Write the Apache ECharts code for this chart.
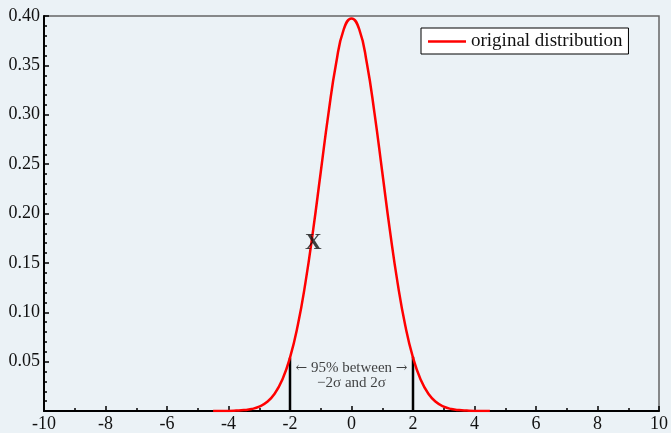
<!DOCTYPE html>
<html>
<head>
<meta charset="utf-8">
<script src="https://cdn.jsdelivr.net/npm/echarts@6/dist/echarts.min.js"></script>
<style>html,body{margin:0;padding:0;background:#ebf2f6;}#c{width:671px;height:433px;}</style>
</head>
<body>
<div id="c"></div>
<script>
// Data
const curveX = [-4.5,-4.25,-4,-3.75,-3.5,-3.25,-3,-2.75,-2.5,-2.25,-2,-1.75,-1.5,-1.25,-1,-0.75,-0.5,-0.25,0,0.25,0.5,0.75,1,1.25,1.5,1.75,2,2.25,2.5,2.75,3,3.25,3.5,3.75,4,4.25,4.5];
const curveY = [0.00002,0.00005,0.0001,0.0004,0.0009,0.002,0.0044,0.0091,0.0175,0.0317,0.054,0.0863,0.1295,0.1826,0.242,0.3011,0.3521,0.3867,0.3975,0.3867,0.3521,0.3011,0.242,0.1826,0.1295,0.0863,0.054,0.0317,0.0175,0.0091,0.0044,0.002,0.0009,0.0004,0.0001,0.00005,0.00002];
const sigmaX = [-2, 2];
const sigmaTop = [0.054, 0.055];
const xTicks = [-10,-8,-6,-4,-2,0,2,4,6,8,10];
const yTicks = [0.05,0.10,0.15,0.20,0.25,0.30,0.35,0.40];
const seriesName = 'original distribution';
const markX = [-1.24, 0.170];
const noteLine1 = ['\u2190', ' 95% between ', '\u2192'];
const noteLine2 = '\u22122\u03c3 and 2\u03c3';
const notePos = [0, 0.0358];

const serif = '"Liberation Serif", "DejaVu Serif", serif';
const chart = echarts.init(document.getElementById('c'));
const curve = curveX.map((x, i) => [x, curveY[i]]);
const sigmaSeries = sigmaX.map((x, i) => ({
  type: 'line', silent: true, showSymbol: false, z: 3,
  data: [[x, 0], [x, sigmaTop[i]]],
  lineStyle: {color: '#000', width: 2.5}
}));
chart.setOption({
  backgroundColor: '#ebf2f6',
  animation: false,
  grid: {left: 44, right: 11, top: 16, bottom: 22, show: true, borderColor: '#666', borderWidth: 1.5, backgroundColor: 'transparent'},
  legend: {
    data: [seriesName], left: 421, top: 28, padding: [4, 6, 3, 7],
    backgroundColor: '#ffffff', borderColor: '#000', borderWidth: 1, borderRadius: 0,
    icon: 'rect', itemWidth: 38, itemHeight: 2.5,
    textStyle: {fontFamily: serif, fontSize: 19, color: '#111'}
  },
  xAxis: {
    type: 'value', min: -10, max: 10, interval: 2,
    axisLine: {onZero: false, lineStyle: {color: '#000', width: 2}},
    axisTick: {inside: true, length: 5, lineStyle: {color: '#000', width: 1.5}},
    minorTick: {show: true, splitNumber: 2, length: 3, lineStyle: {color: '#000', width: 1.5}},
    splitLine: {show: false},
    axisLabel: {fontFamily: serif, fontSize: 18, color: '#111', margin: 4,
      formatter: v => xTicks.includes(v) ? String(v) : ''}
  },
  yAxis: {
    type: 'value', min: 0, max: 0.4, interval: 0.05,
    axisLine: {show: true, onZero: false, lineStyle: {color: '#000', width: 2}},
    axisTick: {show: true, inside: true, length: 5, lineStyle: {color: '#000', width: 1.5}},
    minorTick: {show: true, splitNumber: 5, length: 3, lineStyle: {color: '#000', width: 1.5}},
    splitLine: {show: false},
    axisLabel: {fontFamily: serif, fontSize: 18, color: '#111', margin: 4,
      formatter: v => { const t = yTicks.find(y => Math.abs(y - v) < 1e-9); return t === undefined ? '' : t.toFixed(2); }}
  },
  series: [
    {
      name: seriesName, type: 'line', data: curve, smooth: true, showSymbol: false, z: 4,
      lineStyle: {color: '#ff0000', width: 2.5}, itemStyle: {color: '#ff0000'}
    },
    ...sigmaSeries,
    {
      type: 'scatter', silent: true, symbolSize: 0, z: 5,
      data: [markX],
      label: {show: true, position: 'inside', formatter: 'X', fontFamily: serif, fontSize: 23, fontWeight: 'bold', color: '#111'}
    },
    {
      type: 'scatter', silent: true, symbolSize: 0, z: 5,
      data: [notePos],
      label: {show: true, position: 'inside', align: 'center',
        formatter: '{a|' + noteLine1[0] + '}{t|' + noteLine1[1] + '}{a|' + noteLine1[2] + '}\n{t|' + noteLine2 + '}',
        rich: {
          a: {fontFamily: '"DejaVu Serif", serif', fontSize: 14, lineHeight: 15, color: '#111'},
          t: {fontFamily: serif, fontSize: 15, lineHeight: 15, color: '#111'}
        }}
    }
  ]
});
</script>
</body>
</html>
